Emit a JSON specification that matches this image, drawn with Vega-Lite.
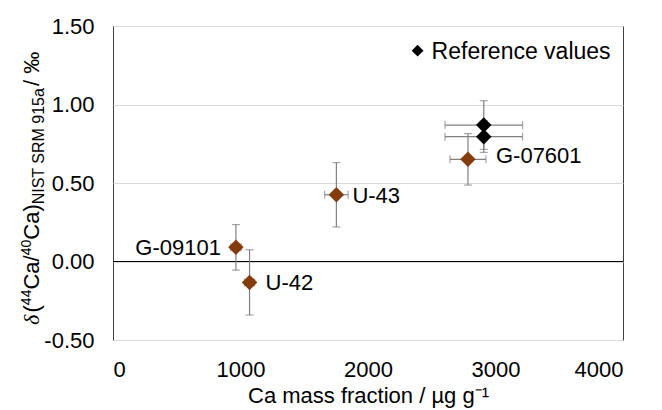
{
  "$schema": "https://vega.github.io/schema/vega-lite/v6.json",
  "autosize": {"type": "none"},
  "padding": {"left": 113, "top": 26, "right": 39, "bottom": 70},
  "width": 510,
  "height": 314,
  "background": "#ffffff",
  "config": {
    "font": "Liberation Sans",
    "view": {"stroke": "#404040", "strokeWidth": 1},
    "axis": {
      "labelFont": "Liberation Sans",
      "labelFontSize": 22,
      "labelColor": "#000000",
      "titleFont": "Liberation Sans",
      "titleFontSize": 22,
      "titleFontWeight": "normal",
      "titleColor": "#000000",
      "ticks": false,
      "domain": false,
      "gridColor": "#d9d9d9",
      "gridWidth": 1
    },
    "text": {"font": "Liberation Sans", "fontSize": 22, "color": "#000000"}
  },
  "datasets": {
    "pts": [
      {"sample": "G-09101", "group": "sample", "x": 964, "y": 0.09, "xe": 40, "ye": 0.145},
      {"sample": "U-42", "group": "sample", "x": 1071, "y": -0.133, "xe": 40, "ye": 0.208},
      {"sample": "U-43", "group": "sample", "x": 1752, "y": 0.425, "xe": 92, "ye": 0.205},
      {"sample": "G-07601", "group": "sample", "x": 2784, "y": 0.651, "xe": 141, "ye": 0.164},
      {"sample": "G-07601 ref a", "group": "reference", "x": 2908, "y": 0.869, "xe": 304, "ye": 0.155},
      {"sample": "G-07601 ref b", "group": "reference", "x": 2908, "y": 0.795, "xe": 304, "ye": 0.1}
    ]
  },
  "layer": [
    {
      "data": {"values": [{"y": 0}]},
      "mark": {"type": "rule", "color": "#000000", "strokeWidth": 1},
      "encoding": {
        "y": {"field": "y", "type": "quantitative", "title": null, "scale": {"domain": [-0.5, 1.5], "nice": false, "zero": false},
          "axis": {"values": [-0.5, 0, 0.5, 1, 1.5], "grid": true, "labelPadding": 19, "title": null,
            "labelExpr": "replace(format(datum.value, '.2f'), '\u2212', '-')"}}
      }
    },
    {
      "data": {"name": "pts"},
      "mark": {"type": "errorbar", "color": "#808080", "thickness": 1.2, "ticks": {"size": 8, "thickness": 1.2, "color": "#808080"}},
      "encoding": {
        "x": {"field": "x", "type": "quantitative", "title": "Ca mass fraction / \u00b5g g\u207b\u00b9", "scale": {"domain": [0, 4000], "nice": false},
          "axis": {"values": [0, 1000, 2000, 3000, 4000], "format": "d", "grid": false, "labelPadding": 19, "titlePadding": 5}},
        "y": {"field": "y", "type": "quantitative", "title": null},
        "yError": {"field": "ye"}
      }
    },
    {
      "data": {"name": "pts"},
      "mark": {"type": "errorbar", "color": "#808080", "thickness": 1.2, "ticks": {"size": 8, "thickness": 1.2, "color": "#808080"}},
      "encoding": {
        "x": {"field": "x", "type": "quantitative", "title": "Ca mass fraction / \u00b5g g\u207b\u00b9"},
        "xError": {"field": "xe"},
        "y": {"field": "y", "type": "quantitative", "title": null}
      }
    },
    {
      "data": {"name": "pts"},
      "mark": {"type": "point", "shape": "diamond", "filled": true, "size": 240, "opacity": 1},
      "encoding": {
        "x": {"field": "x", "type": "quantitative", "title": "Ca mass fraction / \u00b5g g\u207b\u00b9"},
        "y": {"field": "y", "type": "quantitative", "title": null},
        "color": {"field": "group", "type": "nominal", "scale": {"domain": ["sample", "reference"], "range": ["#843c0c", "#000000"]}, "legend": null}
      }
    },
    {
      "data": {"name": "pts"},
      "transform": [{"filter": "datum.sample == 'U-42' || datum.sample == 'U-43'"}],
      "mark": {"type": "text", "align": "left", "baseline": "middle", "dx": 16, "dy": 1},
      "encoding": {
        "x": {"field": "x", "type": "quantitative", "title": "Ca mass fraction / \u00b5g g\u207b\u00b9"},
        "y": {"field": "y", "type": "quantitative", "title": null},
        "text": {"field": "sample"}
      }
    },
    {
      "data": {"name": "pts"},
      "transform": [{"filter": "datum.sample == 'G-09101'"}],
      "mark": {"type": "text", "align": "right", "baseline": "middle", "dx": -15, "dy": 1},
      "encoding": {
        "x": {"field": "x", "type": "quantitative", "title": "Ca mass fraction / \u00b5g g\u207b\u00b9"},
        "y": {"field": "y", "type": "quantitative", "title": null},
        "text": {"field": "sample"}
      }
    },
    {
      "data": {"name": "pts"},
      "transform": [{"filter": "datum.sample == 'G-07601'"}],
      "mark": {"type": "text", "align": "left", "baseline": "middle", "dx": 28, "dy": -3},
      "encoding": {
        "x": {"field": "x", "type": "quantitative", "title": "Ca mass fraction / \u00b5g g\u207b\u00b9"},
        "y": {"field": "y", "type": "quantitative", "title": null},
        "text": {"field": "sample"}
      }
    },
    {
      "data": {"values": [{"x": 2389, "y": 1.343, "label": "Reference values"}]},
      "encoding": {
        "x": {"field": "x", "type": "quantitative", "title": "Ca mass fraction / \u00b5g g\u207b\u00b9"},
        "y": {"field": "y", "type": "quantitative", "title": null}
      },
      "layer": [
        {"mark": {"type": "point", "shape": "diamond", "filled": true, "size": 140, "color": "#000000", "opacity": 1}},
        {"mark": {"type": "text", "align": "left", "baseline": "middle", "fontSize": 23, "dx": 14, "dy": 1}, "encoding": {"text": {"field": "label"}}}
      ]
    },
    {
      "data": {"values": [{"x": -580, "y": -0.404}]},
      "encoding": {
        "x": {"field": "x", "type": "quantitative", "title": "Ca mass fraction / \u00b5g g\u207b\u00b9"},
        "y": {"field": "y", "type": "quantitative", "title": null}
      },
      "layer": [
        {"mark": {"type": "text", "angle": 270, "align": "left", "baseline": "alphabetic", "font": "Liberation Serif", "fontSize": 22, "fontStyle": "italic", "dx": 0, "dy": 0},
         "encoding": {"text": {"value": "\u03b4"}}},
        {"mark": {"type": "text", "angle": 270, "align": "left", "baseline": "alphabetic", "fontSize": 22, "dx": 12.5, "dy": 0},
         "encoding": {"text": {"value": "("}}},
        {"mark": {"type": "text", "angle": 270, "align": "left", "baseline": "alphabetic", "fontSize": 14, "dx": 19.8, "dy": -8},
         "encoding": {"text": {"value": "44"}}},
        {"mark": {"type": "text", "angle": 270, "align": "left", "baseline": "alphabetic", "fontSize": 22, "dx": 35.4, "dy": 0},
         "encoding": {"text": {"value": "Ca/"}}},
        {"mark": {"type": "text", "angle": 270, "align": "left", "baseline": "alphabetic", "fontSize": 14, "dx": 69.6, "dy": -8},
         "encoding": {"text": {"value": "40"}}},
        {"mark": {"type": "text", "angle": 270, "align": "left", "baseline": "alphabetic", "fontSize": 22, "dx": 85.2, "dy": 0},
         "encoding": {"text": {"value": "Ca)"}}},
        {"mark": {"type": "text", "angle": 270, "align": "left", "baseline": "alphabetic", "fontSize": 16, "dx": 120.6, "dy": 5},
         "encoding": {"text": {"value": "NIST SRM 915a"}}},
        {"mark": {"type": "text", "angle": 270, "align": "left", "baseline": "alphabetic", "fontSize": 22, "dx": 239, "dy": 0},
         "encoding": {"text": {"value": " / \u2030"}}}
      ]
    }
  ]
}
